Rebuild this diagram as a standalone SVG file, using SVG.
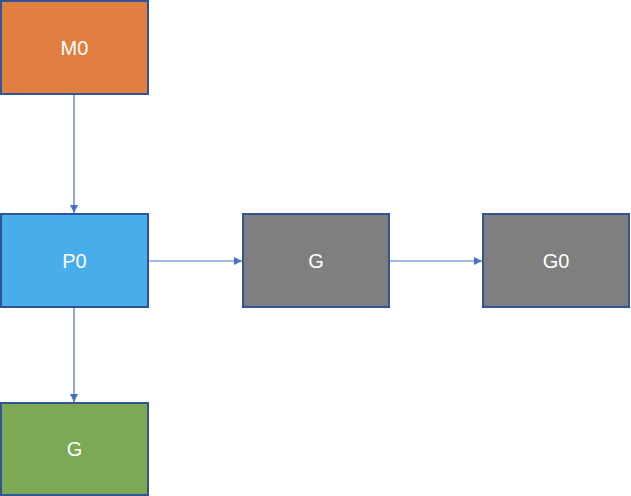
<svg xmlns="http://www.w3.org/2000/svg" width="631" height="496" viewBox="0 0 631 496">
<style>
.box{stroke:#2F5597;stroke-width:2}
.lbl{font-family:"Liberation Sans",Arial,sans-serif;font-size:20px;fill:#FFFFFF;text-anchor:middle;dominant-baseline:central}
.edge{stroke:#4472C4;stroke-width:1.2;fill:none;marker-end:url(#arr)}
</style>
<defs>
<marker id="arr" viewBox="0 0 10 10" refX="10" refY="5" markerWidth="8" markerHeight="8" markerUnits="userSpaceOnUse" orient="auto">
<path d="M0,0 L10,5 L0,10 z" fill="#4472C4"/>
</marker>
</defs>
<rect width="631" height="496" fill="#FFFFFF"/>
<g id="edges">
<line class="edge" x1="74" y1="94" x2="74" y2="213"/>
<line class="edge" x1="148" y1="261" x2="242" y2="261"/>
<line class="edge" x1="389" y1="261" x2="482" y2="261"/>
<line class="edge" x1="74" y1="307" x2="74" y2="402"/>
</g>
<g id="M0"><rect class="box" x="1" y="1" width="147" height="93" fill="#E07F40"/><text class="lbl" x="74.5" y="47.5">M0</text></g>
<g id="P0"><rect class="box" x="1" y="214" width="147" height="93" fill="#47ADEB"/><text class="lbl" x="74.5" y="260.5">P0</text></g>
<g id="G1"><rect class="box" x="243" y="214" width="146" height="93" fill="#7F7F7F"/><text class="lbl" x="316" y="260.5">G</text></g>
<g id="G0"><rect class="box" x="483" y="214" width="146" height="93" fill="#7F7F7F"/><text class="lbl" x="556" y="260.5">G0</text></g>
<g id="G2"><rect class="box" x="1" y="403" width="147" height="92" fill="#7DA954"/><text class="lbl" x="74.5" y="449">G</text></g>
</svg>
